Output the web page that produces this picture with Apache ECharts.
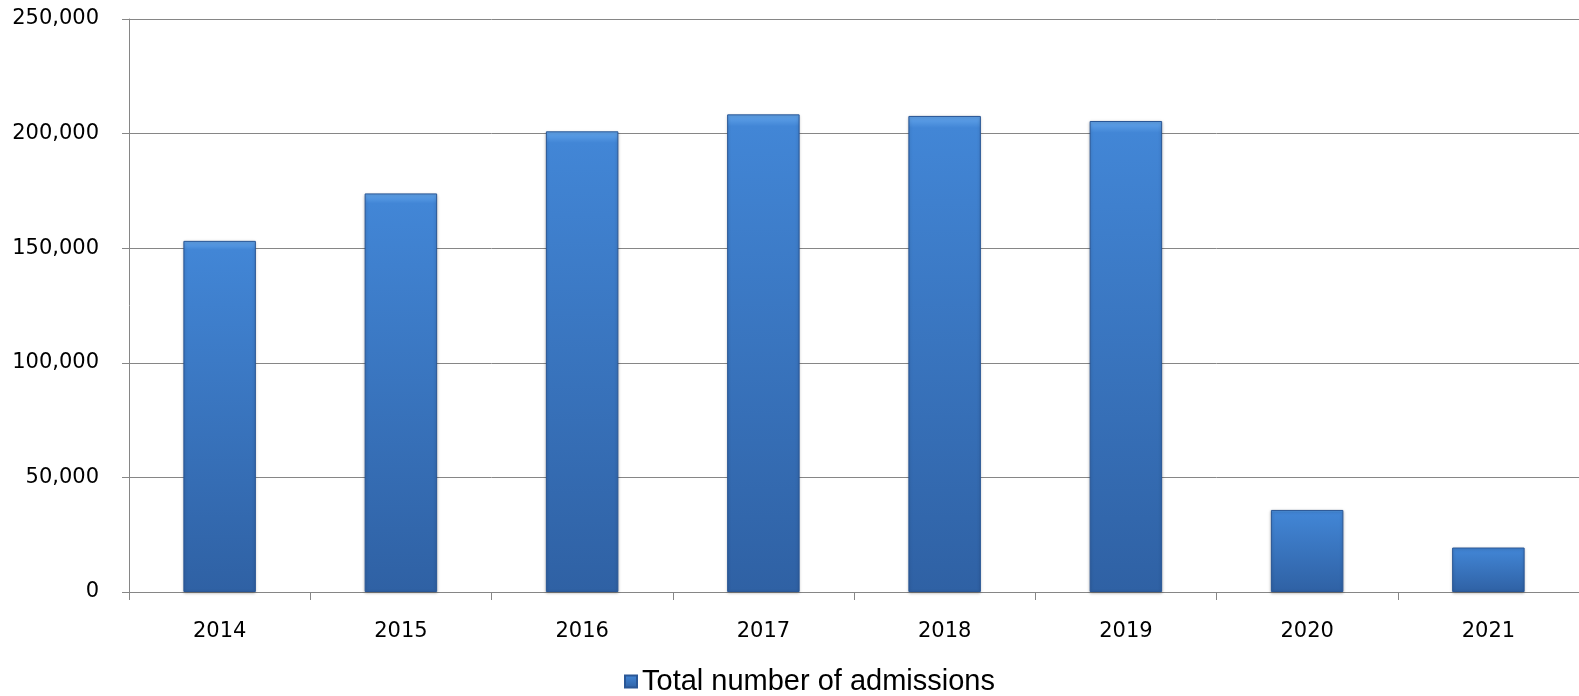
<!DOCTYPE html>
<html>
<head>
<meta charset="utf-8">
<script src="https://cdn.jsdelivr.net/npm/echarts@6/dist/echarts.min.js"></script>
<style>
html,body{margin:0;padding:0;background:#fff;overflow:hidden;}
#chart{width:100vw;height:100vh;}
</style>
</head>
<body>
<div id="chart"></div>
<script>
var categories = ['2014','2015','2016','2017','2018','2019','2020','2021'];
var admissions = [153200, 173900, 201000, 208400, 207700, 205500, 35800, 19400];
var seriesName = 'Total number of admissions';

var chart = echarts.init(document.getElementById('chart'));
var barColor = new echarts.graphic.LinearGradient(0, 0, 0, 1, [
  {offset: 0, color: '#64a6ec'},
  {offset: 0.025, color: '#4286d6'},
  {offset: 1, color: '#2f61a4'}
]);
chart.setOption({
  animation: false,
  grid: {left: 129, right: -6, top: 19, bottom: 104},
  legend: {
    data: [{name: seriesName, icon: 'rect'}],
    left: 619, top: 662,
    itemWidth: 12, itemHeight: 12, itemGap: 4,
    textStyle: {fontFamily: 'Liberation Sans', fontSize: 29, color: '#000'}
  },
  xAxis: {
    type: 'category',
    data: categories,
    axisLine: {lineStyle: {color: '#868686', width: 1}},
    axisTick: {show: true, length: 8, lineStyle: {color: '#868686'}},
    axisLabel: {fontFamily: 'DejaVu Sans', fontSize: 21, color: '#000', margin: 29}
  },
  yAxis: {
    type: 'value',
    min: 0, max: 250000, interval: 50000,
    axisLine: {show: true, lineStyle: {color: '#868686', width: 1}},
    axisTick: {show: true, length: 7, lineStyle: {color: '#868686'}},
    splitLine: {lineStyle: {color: '#868686', width: 1}},
    axisLabel: {
      fontFamily: 'DejaVu Sans', fontSize: 21, color: '#000', margin: 30,
      formatter: function (v) { return v.toLocaleString('en-US'); }
    }
  },
  series: [{
    name: seriesName,
    type: 'bar',
    data: admissions,
    barWidth: '40%',
    itemStyle: {
      color: barColor,
      borderColor: '#2a5796',
      borderWidth: 1,
      shadowColor: 'rgba(0,0,0,0.25)',
      shadowBlur: 3,
      shadowOffsetY: 1
    }
  }]
});
</script>
</body>
</html>
